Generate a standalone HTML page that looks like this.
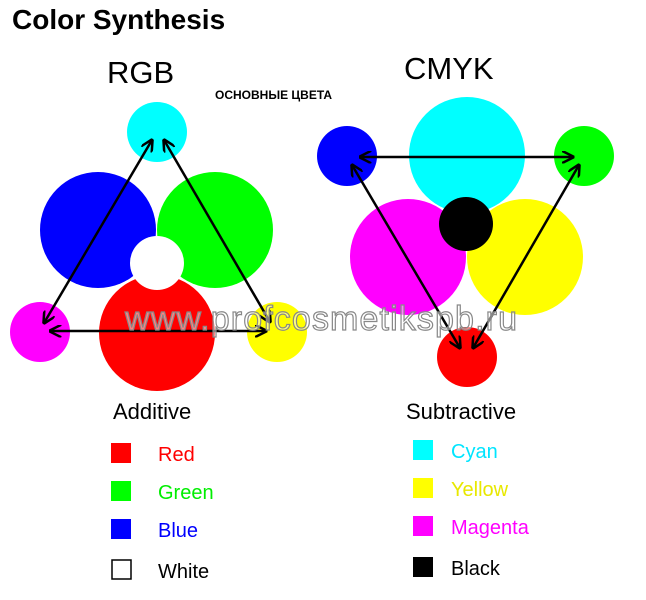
<!DOCTYPE html>
<html><head><meta charset="utf-8"><style>
body{margin:0;background:#fff;width:646px;height:600px;overflow:hidden}
svg{display:block}
</style></head><body>
<svg width="646" height="600" xmlns="http://www.w3.org/2000/svg" font-family="Liberation Sans, DejaVu Sans, sans-serif">
<defs>
<marker id="a" viewBox="0 0 10 10" refX="9" refY="5" markerWidth="5" markerHeight="5" orient="auto-start-reverse"><path d="M0,0 L10,5 L0,10" fill="none" stroke="#000" stroke-width="2"/></marker>
</defs>
<text x="12" y="29" font-size="28" font-weight="bold">Color Synthesis</text>
<text x="107" y="83" font-size="31">RGB</text>
<text x="404" y="79" font-size="31">CMYK</text>
<text x="215" y="99" font-size="12" font-weight="bold">ОСНОВНЫЕ ЦВЕТА</text>
<!-- RGB -->
<circle cx="157" cy="132" r="30" fill="#00ffff"/>
<circle cx="98" cy="230" r="58" fill="#0000ff"/>
<circle cx="215" cy="230" r="58" fill="#00ff00"/>
<circle cx="157" cy="333" r="58" fill="#ff0000"/>
<circle cx="157" cy="263" r="27" fill="#fff"/>
<circle cx="40" cy="332" r="30" fill="#ff00ff"/>
<circle cx="277" cy="332" r="30" fill="#ffff00"/>
<g stroke="#000" stroke-width="2.5" marker-start="url(#a)" marker-end="url(#a)">
<line x1="152" y1="140" x2="44" y2="323"/>
<line x1="164" y1="140" x2="270" y2="322"/>
<line x1="50" y1="331" x2="266" y2="331"/>
</g>
<!-- CMYK -->
<circle cx="467" cy="155" r="58" fill="#00ffff"/>
<circle cx="408" cy="257" r="58" fill="#ff00ff"/>
<circle cx="525" cy="257" r="58" fill="#ffff00"/>
<circle cx="466" cy="224" r="27" fill="#000"/>
<circle cx="347" cy="156" r="30" fill="#0000ff"/>
<circle cx="584" cy="156" r="30" fill="#00ff00"/>
<circle cx="467" cy="357" r="30" fill="#ff0000"/>
<g stroke="#000" stroke-width="2.5" marker-start="url(#a)" marker-end="url(#a)">
<line x1="360" y1="157" x2="573" y2="157"/>
<line x1="352" y1="165" x2="460" y2="348"/>
<line x1="579" y1="165" x2="473" y2="348"/>
</g>
<text x="125" y="330" font-size="34" fill="#fff" fill-opacity="0.5" stroke="#888" stroke-width="1.2" textLength="392">www.profcosmetikspb.ru</text>
<!-- legends -->
<text x="113" y="419" font-size="22">Additive</text>
<text x="406" y="419" font-size="22">Subtractive</text>
<g font-size="20">
<rect x="111" y="443" width="20" height="20" fill="#ff0000"/><text x="158" y="461" fill="#ff0000">Red</text>
<rect x="111" y="481" width="20" height="20" fill="#00ff00"/><text x="158" y="499" fill="#00ee00">Green</text>
<rect x="111" y="519" width="20" height="20" fill="#0000ff"/><text x="158" y="537" fill="#0000ff">Blue</text>
<rect x="112" y="560" width="19" height="19" fill="#fff" stroke="#000" stroke-width="1.5"/><text x="158" y="578" fill="#000">White</text>
<rect x="413" y="440" width="20" height="20" fill="#00ffff"/><text x="451" y="458" fill="#00e5ff">Cyan</text>
<rect x="413" y="478" width="20" height="20" fill="#ffff00"/><text x="451" y="496" fill="#e8e800">Yellow</text>
<rect x="413" y="516" width="20" height="20" fill="#ff00ff"/><text x="451" y="534" fill="#ff00ff">Magenta</text>
<rect x="413" y="557" width="20" height="20" fill="#000"/><text x="451" y="575" fill="#000">Black</text>
</g>
</svg>
</body></html>
